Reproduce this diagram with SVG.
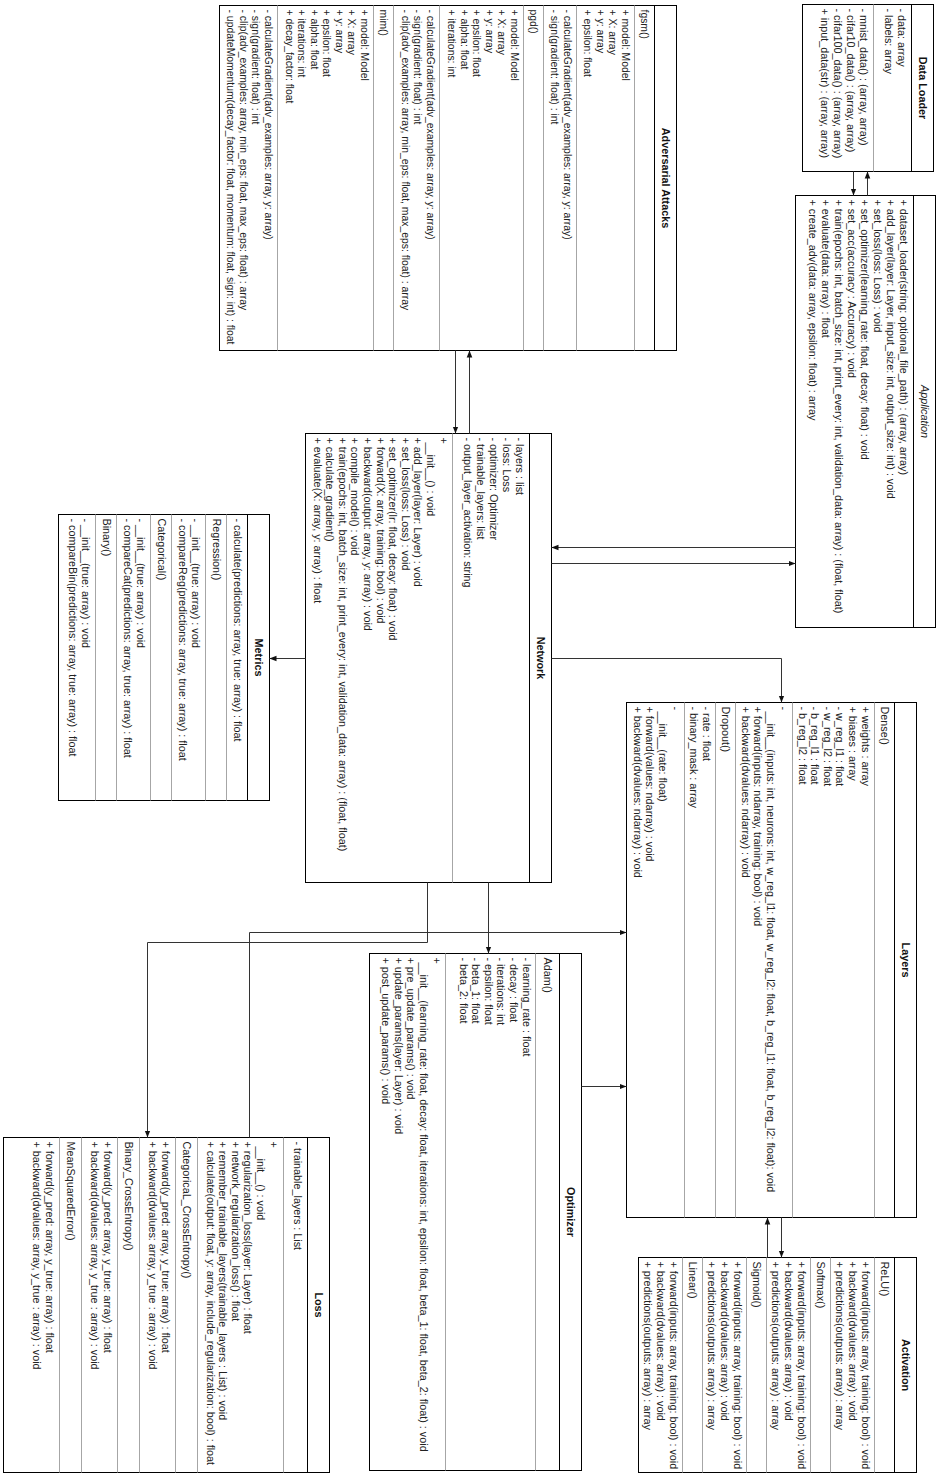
<svg xmlns="http://www.w3.org/2000/svg" width="940" height="1474" viewBox="0 0 940 1474">
<style>
.b{fill:#fff;stroke:#000;stroke-width:1}
.ts{stroke:#000;stroke-width:1}
.s{stroke:#a6a6a6;stroke-width:1}
text{font-family:"Liberation Sans",Arial,Helvetica,sans-serif;font-size:10.8px;fill:#222}
.h{font-weight:bold;text-anchor:middle;fill:#111}
.i{font-style:italic;text-anchor:middle}
.sm{font-size:10.4px}
.e{fill:none;stroke:#333;stroke-width:1}
</style>
<defs>
<marker id="ah" viewBox="0 0 10 10" refX="10" refY="5" markerWidth="7" markerHeight="7" orient="auto" markerUnits="userSpaceOnUse"><path d="M0,1 L10,5 L0,9 z" fill="#111"/></marker>
</defs>
<rect width="940" height="1474" fill="#fff"/>
<g transform="translate(940,0) rotate(90)">

<g id="data-loader">
<rect class="b" x="4.5" y="6.5" width="167" height="131"/>
<line class="ts" x1="4.5" y1="28.5" x2="171.5" y2="28.5"/>
<line class="s" x1="4.5" y1="66.5" x2="171.5" y2="66.5"/>
<text class="h" x="88" y="21.5">Data Loader</text>
<text x="8.5" y="42">- data: array</text>
<text x="8.5" y="55">- labels: array</text>
<text x="8.5" y="80">- mnist_data() : (array, array)</text>
<text x="8.5" y="93">- cifar10_data() : (array, array)</text>
<text x="8.5" y="106">- cifar100_data() : (array, array)</text>
<text x="8.5" y="119">+ input_data(str) : (array, array)</text>
</g>

<g id="application">
<rect class="b" x="195.5" y="4.5" width="432" height="140"/>
<line class="ts" x1="195.5" y1="26.5" x2="627.5" y2="26.5"/>
<text class="i" x="411.5" y="19.5">Application</text>
<text x="199.5" y="40">+ dataset_loader(string: optional_file_path) : (array, array)</text>
<text x="199.5" y="53">+ add_layer(layer: Layer, input_size: int, output_size: int) : void</text>
<text x="199.5" y="66">+ set_loss(loss: Loss) : void</text>
<text x="199.5" y="79">+ set_optimizer(learning_rate: float, decay: float) : void</text>
<text x="199.5" y="92">+ set_acc(accuracy : Accuracy) : void</text>
<text x="199.5" y="105">+ train(epochs: int, batch_size: int, print_every: int, validation_data: array) : (float, float)</text>
<text x="199.5" y="118">+ evaluate(data: array) : float</text>
<text x="199.5" y="131">+ create_adv(data: array, epsilon: float) : array</text>
</g>

<g id="adversarial-attacks">
<rect class="b" x="5.5" y="263.5" width="345" height="457"/>
<line class="ts" x1="5.5" y1="285.5" x2="350.5" y2="285.5"/>
<line class="s" x1="5.5" y1="305.5" x2="350.5" y2="305.5"/>
<line class="s" x1="5.5" y1="363.5" x2="350.5" y2="363.5"/>
<line class="s" x1="5.5" y1="396.5" x2="350.5" y2="396.5"/>
<line class="s" x1="5.5" y1="416.5" x2="350.5" y2="416.5"/>
<line class="s" x1="5.5" y1="500.5" x2="350.5" y2="500.5"/>
<line class="s" x1="5.5" y1="546.5" x2="350.5" y2="546.5"/>
<line class="s" x1="5.5" y1="566.5" x2="350.5" y2="566.5"/>
<line class="s" x1="5.5" y1="662.5" x2="350.5" y2="662.5"/>
<text class="h" x="178" y="278.5">Adversarial Attacks</text>
<text class="sm" x="9.5" y="299.5">fgsm()</text>
<text class="sm" x="9.5" y="318.5">+ model: Model</text>
<text class="sm" x="9.5" y="331">+ X: array</text>
<text class="sm" x="9.5" y="343.5">+ y: array</text>
<text class="sm" x="9.5" y="356">+ epsilon: float</text>
<text class="sm" x="9.5" y="376.5">- calculateGradient(adv_examples: array, y: array)</text>
<text class="sm" x="9.5" y="389">- sign(gradient: float) : int</text>
<text class="sm" x="9.5" y="410.5">pgd()</text>
<text class="sm" x="9.5" y="429.5">+ model: Model</text>
<text class="sm" x="9.5" y="442">+ X: array</text>
<text class="sm" x="9.5" y="454.5">+ y: array</text>
<text class="sm" x="9.5" y="467">+ epsilon: float</text>
<text class="sm" x="9.5" y="479.5">+ alpha: float</text>
<text class="sm" x="9.5" y="492">+ iterations: int</text>
<text class="sm" x="9.5" y="513.5">- calculateGradient(adv_examples: array, y: array)</text>
<text class="sm" x="9.5" y="526">- sign(gradient: float) : int</text>
<text class="sm" x="9.5" y="538.5">- clip(adv_examples: array, min_eps: float, max_eps: float) : array</text>
<text class="sm" x="9.5" y="560.5">mim()</text>
<text class="sm" x="9.5" y="579.5">+ model: Model</text>
<text class="sm" x="9.5" y="592">+ X: array</text>
<text class="sm" x="9.5" y="604.5">+ y: array</text>
<text class="sm" x="9.5" y="617">+ epsilon: float</text>
<text class="sm" x="9.5" y="629.5">+ alpha: float</text>
<text class="sm" x="9.5" y="642">+ iterations: int</text>
<text class="sm" x="9.5" y="654.5">+ decay_factor: float</text>
<text class="sm" x="9.5" y="675.5">- calculateGradient(adv_examples: array, y: array)</text>
<text class="sm" x="9.5" y="688">- sign(gradient: float) : int</text>
<text class="sm" x="9.5" y="700.5">- clip(adv_examples: array, min_eps: float, max_eps: float) : array</text>
<text class="sm" x="9.5" y="713">- updateMomentum(decay_factor: float, momentum: float, sign: int) : float</text>
</g>

<g id="network">
<rect class="b" x="433.5" y="388.5" width="449" height="246"/>
<line class="ts" x1="433.5" y1="410.5" x2="882.5" y2="410.5"/>
<line class="s" x1="433.5" y1="487.5" x2="882.5" y2="487.5"/>
<text class="h" x="658" y="403.5">Network</text>
<text x="437.5" y="424">- layers : list</text>
<text x="437.5" y="437">- loss: Loss</text>
<text x="437.5" y="450">- optimizer: Optimizer</text>
<text x="437.5" y="463">- trainable_layers: list</text>
<text x="437.5" y="476">- output_layer_activation: string</text>
<text x="437.5" y="500.5">+</text>
<text x="442.5" y="513.1">__init__() : void</text>
<text x="437.5" y="525.7">+ add_layer(layer: Layer) : void</text>
<text x="437.5" y="538.3">+ set_loss(loss: Loss) : void</text>
<text x="437.5" y="550.9">+ set_optimizer(lr: float, decay: float) : void</text>
<text x="437.5" y="563.5">+ forward(X: array, training: bool) : void</text>
<text x="437.5" y="576.1">+ backward(output: array, y: array) : void</text>
<text x="437.5" y="588.7">+ compile_model() : void</text>
<text x="437.5" y="601.3">+ train(epochs: int, batch_size: int, print_every: int, validation_data: array) : (float, float)</text>
<text x="437.5" y="613.9">+ calculate_gradient()</text>
<text x="437.5" y="626.5">+ evaluate(X: array, y: array) : float</text>
</g>

<g id="metrics">
<rect class="b" x="514.5" y="670.5" width="286" height="211"/>
<line class="ts" x1="514.5" y1="692.5" x2="800.5" y2="692.5"/>
<line class="s" x1="514.5" y1="713.5" x2="800.5" y2="713.5"/>
<line class="s" x1="514.5" y1="734.5" x2="800.5" y2="734.5"/>
<line class="s" x1="514.5" y1="768.5" x2="800.5" y2="768.5"/>
<line class="s" x1="514.5" y1="789.5" x2="800.5" y2="789.5"/>
<line class="s" x1="514.5" y1="823.5" x2="800.5" y2="823.5"/>
<line class="s" x1="514.5" y1="844.5" x2="800.5" y2="844.5"/>
<text class="h" x="657.5" y="685.5">Metrics</text>
<text x="518.5" y="706">- calculate(predictions: array, true: array) : float</text>
<text x="518.5" y="727">Regression()</text>
<text x="518.5" y="748">- __init__(true: array) : void</text>
<text x="518.5" y="761">- compareReg(predictions: array, true: array) : float</text>
<text x="518.5" y="782">Categorical()</text>
<text x="518.5" y="803">- __init__(true: array) : void</text>
<text x="518.5" y="816">- compareCat(predictions: array, true: array) : float</text>
<text x="518.5" y="837">Binary()</text>
<text x="518.5" y="858">- __init__(true: array) : void</text>
<text x="518.5" y="871">- compareBin(predictions: array, true: array) : float</text>
</g>

<g id="layers">
<rect class="b" x="702.5" y="23.5" width="515" height="290"/>
<line class="ts" x1="702.5" y1="45.5" x2="1217.5" y2="45.5"/>
<line class="s" x1="702.5" y1="65.5" x2="1217.5" y2="65.5"/>
<line class="s" x1="702.5" y1="147.5" x2="1217.5" y2="147.5"/>
<line class="s" x1="702.5" y1="204.5" x2="1217.5" y2="204.5"/>
<line class="s" x1="702.5" y1="224.5" x2="1217.5" y2="224.5"/>
<line class="s" x1="702.5" y1="255.5" x2="1217.5" y2="255.5"/>
<text class="h" x="960" y="38.5">Layers</text>
<text x="706.5" y="59.5">Dense()</text>
<text x="706.5" y="78.5">+ weights : array</text>
<text x="706.5" y="91.1">+ biases : array</text>
<text x="706.5" y="103.7">- w_reg_l1 : float</text>
<text x="706.5" y="116.3">- w_reg_l2 : float</text>
<text x="706.5" y="128.9">- b_reg_l1 : float</text>
<text x="706.5" y="141.5">- b_reg_l2 : float</text>
<text x="706.5" y="160.5">-</text>
<text x="711.5" y="173.1">__init__(inputs: int, neurons: int, w_reg_l1: float, w_reg_l2: float, b_reg_l1: float, b_reg_l2: float): void</text>
<text x="706.5" y="185.7">+ forward(inputs: ndarray, training: bool) : void</text>
<text x="706.5" y="198.3">+ backward(dvalues: ndarray) : void</text>
<text x="706.5" y="218.5">Dropout()</text>
<text x="706.5" y="237.5">- rate : float</text>
<text x="706.5" y="250.1">- binary_mask : array</text>
<text x="706.5" y="268.5">-</text>
<text x="711.5" y="281.1">__init__(rate: float)</text>
<text x="706.5" y="293.7">+ forward(values: ndarray) : void</text>
<text x="706.5" y="306.3">+ backward(dvalues: ndarray) : void</text>
</g>

<g id="activation">
<rect class="b" x="1257.5" y="23.5" width="215" height="278"/>
<line class="ts" x1="1257.5" y1="45.5" x2="1472.5" y2="45.5"/>
<line class="s" x1="1257.5" y1="65.5" x2="1472.5" y2="65.5"/>
<line class="s" x1="1257.5" y1="109.5" x2="1472.5" y2="109.5"/>
<line class="s" x1="1257.5" y1="129.5" x2="1472.5" y2="129.5"/>
<line class="s" x1="1257.5" y1="173.5" x2="1472.5" y2="173.5"/>
<line class="s" x1="1257.5" y1="193.5" x2="1472.5" y2="193.5"/>
<line class="s" x1="1257.5" y1="237.5" x2="1472.5" y2="237.5"/>
<line class="s" x1="1257.5" y1="257.5" x2="1472.5" y2="257.5"/>
<text class="h" x="1365" y="38.5">Activation</text>
<text x="1261.5" y="59.5">ReLU()</text>
<text x="1261.5" y="78.5">+ forward(inputs: array, training: bool) : void</text>
<text x="1261.5" y="91.1">+ backward(dvalues: array) : void</text>
<text x="1261.5" y="103.7">+ predictions(outputs: array) : array</text>
<text x="1261.5" y="123.5">Softmax()</text>
<text x="1261.5" y="142.5">+ forward(inputs: array, training: bool) : void</text>
<text x="1261.5" y="155.1">+ backward(dvalues: array) : void</text>
<text x="1261.5" y="167.7">+ predictions(outputs: array) : array</text>
<text x="1261.5" y="187.5">Sigmoid()</text>
<text x="1261.5" y="206.5">+ forward(inputs: array, training: bool) : void</text>
<text x="1261.5" y="219.1">+ backward(dvalues: array) : void</text>
<text x="1261.5" y="231.7">+ predictions(outputs: array) : array</text>
<text x="1261.5" y="251.5">Linear()</text>
<text x="1261.5" y="270.5">+ forward(inputs: array, training: bool) : void</text>
<text x="1261.5" y="283.1">+ backward(dvalues: array) : void</text>
<text x="1261.5" y="295.7">+ predictions(outputs: array) : array</text>
</g>

<g id="optimizer">
<rect class="b" x="953.5" y="358.5" width="517" height="212"/>
<line class="ts" x1="953.5" y1="380.5" x2="1470.5" y2="380.5"/>
<line class="s" x1="953.5" y1="404.5" x2="1470.5" y2="404.5"/>
<line class="s" x1="953.5" y1="494.5" x2="1470.5" y2="494.5"/>
<text class="h" x="1212" y="373.5">Optimizer</text>
<text x="957.5" y="396.5">Adam()</text>
<text x="957.5" y="417.5">- learning_rate : float</text>
<text x="957.5" y="430.1">- decay : float</text>
<text x="957.5" y="442.7">- iterations: int</text>
<text x="957.5" y="455.3">- epsilon: float</text>
<text x="957.5" y="467.9">- beta_1: float</text>
<text x="957.5" y="480.5">- beta_2: float</text>
<text x="957.5" y="507.5">+</text>
<text x="962.5" y="520.1">__init__(learning_rate: float, decay: float, iterations: int, epsilon: float, beta_1: float, beta_2: float) : void</text>
<text x="957.5" y="532.7">+ pre_update_params() : void</text>
<text x="957.5" y="545.3">+ update_params(layer: Layer) : void</text>
<text x="957.5" y="557.9">+ post_update_params() : void</text>
</g>

<g id="loss">
<rect class="b" x="1137.5" y="610.5" width="335" height="326"/>
<line class="ts" x1="1137.5" y1="632.5" x2="1472.5" y2="632.5"/>
<line class="s" x1="1137.5" y1="656.5" x2="1472.5" y2="656.5"/>
<line class="s" x1="1137.5" y1="742.5" x2="1472.5" y2="742.5"/>
<line class="s" x1="1137.5" y1="764.5" x2="1472.5" y2="764.5"/>
<line class="s" x1="1137.5" y1="800.5" x2="1472.5" y2="800.5"/>
<line class="s" x1="1137.5" y1="822.5" x2="1472.5" y2="822.5"/>
<line class="s" x1="1137.5" y1="858.5" x2="1472.5" y2="858.5"/>
<line class="s" x1="1137.5" y1="880.5" x2="1472.5" y2="880.5"/>
<text class="h" x="1305" y="625.5">Loss</text>
<text x="1141.5" y="646.5">- trainable_layers : List</text>
<text x="1141.5" y="670.5">+</text>
<text x="1146.5" y="683.1">__init__() : void</text>
<text x="1141.5" y="695.7">+ regularization_loss(layer: Layer) : float</text>
<text x="1141.5" y="708.3">+ network_regularization_loss() : float</text>
<text x="1141.5" y="720.9">+ remember_trainable_layers(trainable_layers : List) : void</text>
<text x="1141.5" y="733.5">+ calculate(output: float, y: array, include_regularization: bool) : float</text>
<text x="1141.5" y="757.5">CategoricaL_CrossEntropy()</text>
<text x="1141.5" y="778.5">+ forward(y_pred: array, y_true: array) : float</text>
<text x="1141.5" y="791.1">+ backward(dvalues: array, y_true : array) : void</text>
<text x="1141.5" y="815.5">Binary_CrossEntropy()</text>
<text x="1141.5" y="836.5">+ forward(y_pred: array, y_true: array) : float</text>
<text x="1141.5" y="849.1">+ backward(dvalues: array, y_true : array) : void</text>
<text x="1141.5" y="873.5">MeanSquaredError()</text>
<text x="1141.5" y="894.5">+ forward(y_pred: array, y_true: array) : float</text>
<text x="1141.5" y="907.1">+ backward(dvalues: array, y_true : array) : void</text>
</g>

<g id="connectors">
<path class="e" d="M171.5,86.5 H195.5" marker-end="url(#ah)"/>
<path class="e" d="M195.5,72.5 H171.5" marker-end="url(#ah)"/>
<path class="e" d="M563.5,388.5 V144.5" marker-end="url(#ah)"/>
<path class="e" d="M547.5,144.5 V388.5" marker-end="url(#ah)"/>
<path class="e" d="M350.5,484.5 H433.5" marker-end="url(#ah)"/>
<path class="e" d="M433.5,470.5 H350.5" marker-end="url(#ah)"/>
<path class="e" d="M658.5,634.5 V670.5" marker-end="url(#ah)"/>
<path class="e" d="M658.5,388.5 V158.5 H702.5" marker-end="url(#ah)"/>
<path class="e" d="M882.5,451.5 H953.5" marker-end="url(#ah)"/>
<path class="e" d="M882.5,512.5 H942.5 V792.5 H1137.5" marker-end="url(#ah)"/>
<path class="e" d="M1137.5,690.5 H932.5 V313.5" marker-end="url(#ah)"/>
<path class="e" d="M1086.5,358.5 V313.5" marker-end="url(#ah)"/>
<path class="e" d="M1217.5,158.5 H1257.5" marker-end="url(#ah)"/>
<path class="e" d="M1257.5,172.5 H1217.5" marker-end="url(#ah)"/>
</g>

</g>
</svg>
